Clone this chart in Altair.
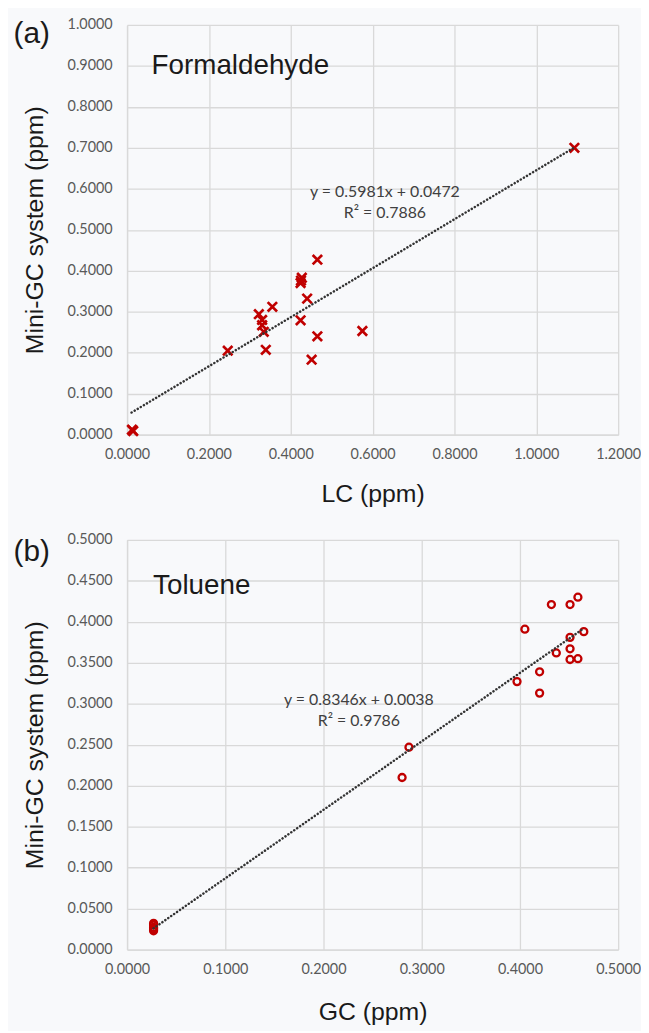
import altair as alt
import pandas as pd

# ---------------- data ----------------
form_x = [0.012, 0.015, 0.246, 0.322, 0.330, 0.330, 0.334, 0.339, 0.355, 0.424,
          0.424, 0.427, 0.425, 0.440, 0.465, 0.465, 0.451, 0.575, 1.093]
form_y = [0.012, 0.009, 0.205, 0.294, 0.280, 0.267, 0.251, 0.207, 0.312, 0.279,
          0.370, 0.383, 0.376, 0.332, 0.427, 0.240, 0.183, 0.253, 0.700]
form_trend_x = [0.011, 1.093]
form_trend_y = [0.054, 0.701]

tol_x = [0.027, 0.027, 0.027, 0.027, 0.027, 0.280, 0.287, 0.397, 0.405, 0.420,
         0.420, 0.432, 0.437, 0.451, 0.451, 0.451, 0.451, 0.459, 0.459, 0.465]
tol_y = [0.023, 0.025, 0.027, 0.030, 0.032, 0.210, 0.247, 0.327, 0.391, 0.339,
         0.313, 0.421, 0.362, 0.421, 0.381, 0.367, 0.354, 0.430, 0.355, 0.388]
tol_trend_x = [0.027, 0.465]
tol_trend_y = [0.026, 0.392]

form_xticks = [0.0, 0.2, 0.4, 0.6, 0.8, 1.0, 1.2]
form_yticks = [0.0, 0.1, 0.2, 0.3, 0.4, 0.5, 0.6, 0.7, 0.8, 0.9, 1.0]
tol_xticks = [0.0, 0.1, 0.2, 0.3, 0.4, 0.5]
tol_yticks = [0.0, 0.05, 0.10, 0.15, 0.20, 0.25, 0.30, 0.35, 0.40, 0.45, 0.50]

form_eq = ["y = 0.5981x + 0.0472", "R² = 0.7886"]
form_eq_x = [0.63, 0.63]
form_eq_y = [0.592, 0.542]
tol_eq = ["y = 0.8346x + 0.0038", "R² = 0.9786"]
tol_eq_x = [0.236, 0.236]
tol_eq_y = [0.304, 0.279]

RED = "#c00000"
X_PATH = "M-1,-1L1,1M-1,1L1,-1"
W, H = 495, 413


def panel(px, py, tx, ty, eq, eqx, eqy, name, name_x, name_y, tag, tag_y,
          xdom, xticks, ydom, yticks, xtitle, xtitle_pad, point_mark):
    xs = alt.Scale(domain=xdom, nice=False, zero=False)
    ys = alt.Scale(domain=ydom, nice=False, zero=False)
    pts = alt.Chart(pd.DataFrame({"x": px, "y": py})).mark_point(**point_mark).encode(
        x=alt.X("x:Q", scale=xs, axis=alt.Axis(values=xticks, format=".4f", title=xtitle,
                                               titlePadding=xtitle_pad)),
        y=alt.Y("y:Q", scale=ys, axis=alt.Axis(values=yticks, format=".4f",
                                               title="Mini-GC system (ppm)")),
    )
    trend = alt.Chart(pd.DataFrame({"x": tx, "y": ty})).mark_line(
        color="#333333", strokeWidth=2.5, strokeDash=[0.1, 3.5], strokeCap="round"
    ).encode(x="x:Q", y="y:Q")
    eqt = alt.Chart(pd.DataFrame({"x": eqx, "y": eqy, "t": eq})).mark_text(
        font="Lato", fontSize=16, color="#404040", align="center", baseline="middle"
    ).encode(x="x:Q", y="y:Q", text="t:N")
    nm = alt.Chart(pd.DataFrame({"x": [name_x], "y": [name_y], "t": [name]})).mark_text(
        font="Liberation Sans", fontSize=28, color="#1a1a1a", align="left", baseline="middle"
    ).encode(x="x:Q", y="y:Q", text="t:N")
    tg = alt.Chart(pd.DataFrame({"t": [tag]})).mark_text(
        font="Liberation Sans", fontSize=30, color="#1a1a1a", align="center", baseline="middle"
    ).encode(x=alt.value(-96), y=alt.value(tag_y), text="t:N")
    return alt.layer(pts, trend, eqt, nm, tg).properties(width=W, height=H)


top = panel(form_x, form_y, form_trend_x, form_trend_y, form_eq, form_eq_x, form_eq_y,
            "Formaldehyde", 0.06, 0.9, "(a)", 9,
            [0, 1.2], form_xticks, [0, 1.0], form_yticks, "LC (ppm)", 21,
            dict(shape=X_PATH, filled=False, strokeWidth=2.7, size=90, color=RED, opacity=1))

bottom = panel(tol_x, tol_y, tol_trend_x, tol_trend_y, tol_eq, tol_eq_x, tol_eq_y,
               "Toluene", 0.0265, 0.444, "(b)", 12,
               [0, 0.5], tol_xticks, [0, 0.5], tol_yticks, "GC (ppm)", 24,
               dict(shape="circle", filled=False, strokeWidth=2.3, size=50, color=RED, opacity=1))

chart = alt.vconcat(top, bottom, spacing=25).configure(
    background="#f8f9fb",
    padding={"left": 5, "top": 5, "right": 0, "bottom": 2},
).configure_view(
    strokeWidth=0, fill="#f8f9fb"
).configure_axis(
    grid=True, gridColor="#d9d9d9", gridWidth=1.3,
    domainColor="#d9d9d9", domainWidth=1.3,
    ticks=False, tickSize=0, labelFlush=False,
    labelFont="Lato", labelFontSize=14.5, labelColor="#595959", labelPadding=13,
    titleFont="Liberation Sans", titleFontSize=25, titleFontWeight="normal",
    titleColor="#1a1a1a",
).configure_axisY(labelPadding=15, titlePadding=20)

chart.save("out.html", embed_options={"renderer": "svg", "actions": False})
